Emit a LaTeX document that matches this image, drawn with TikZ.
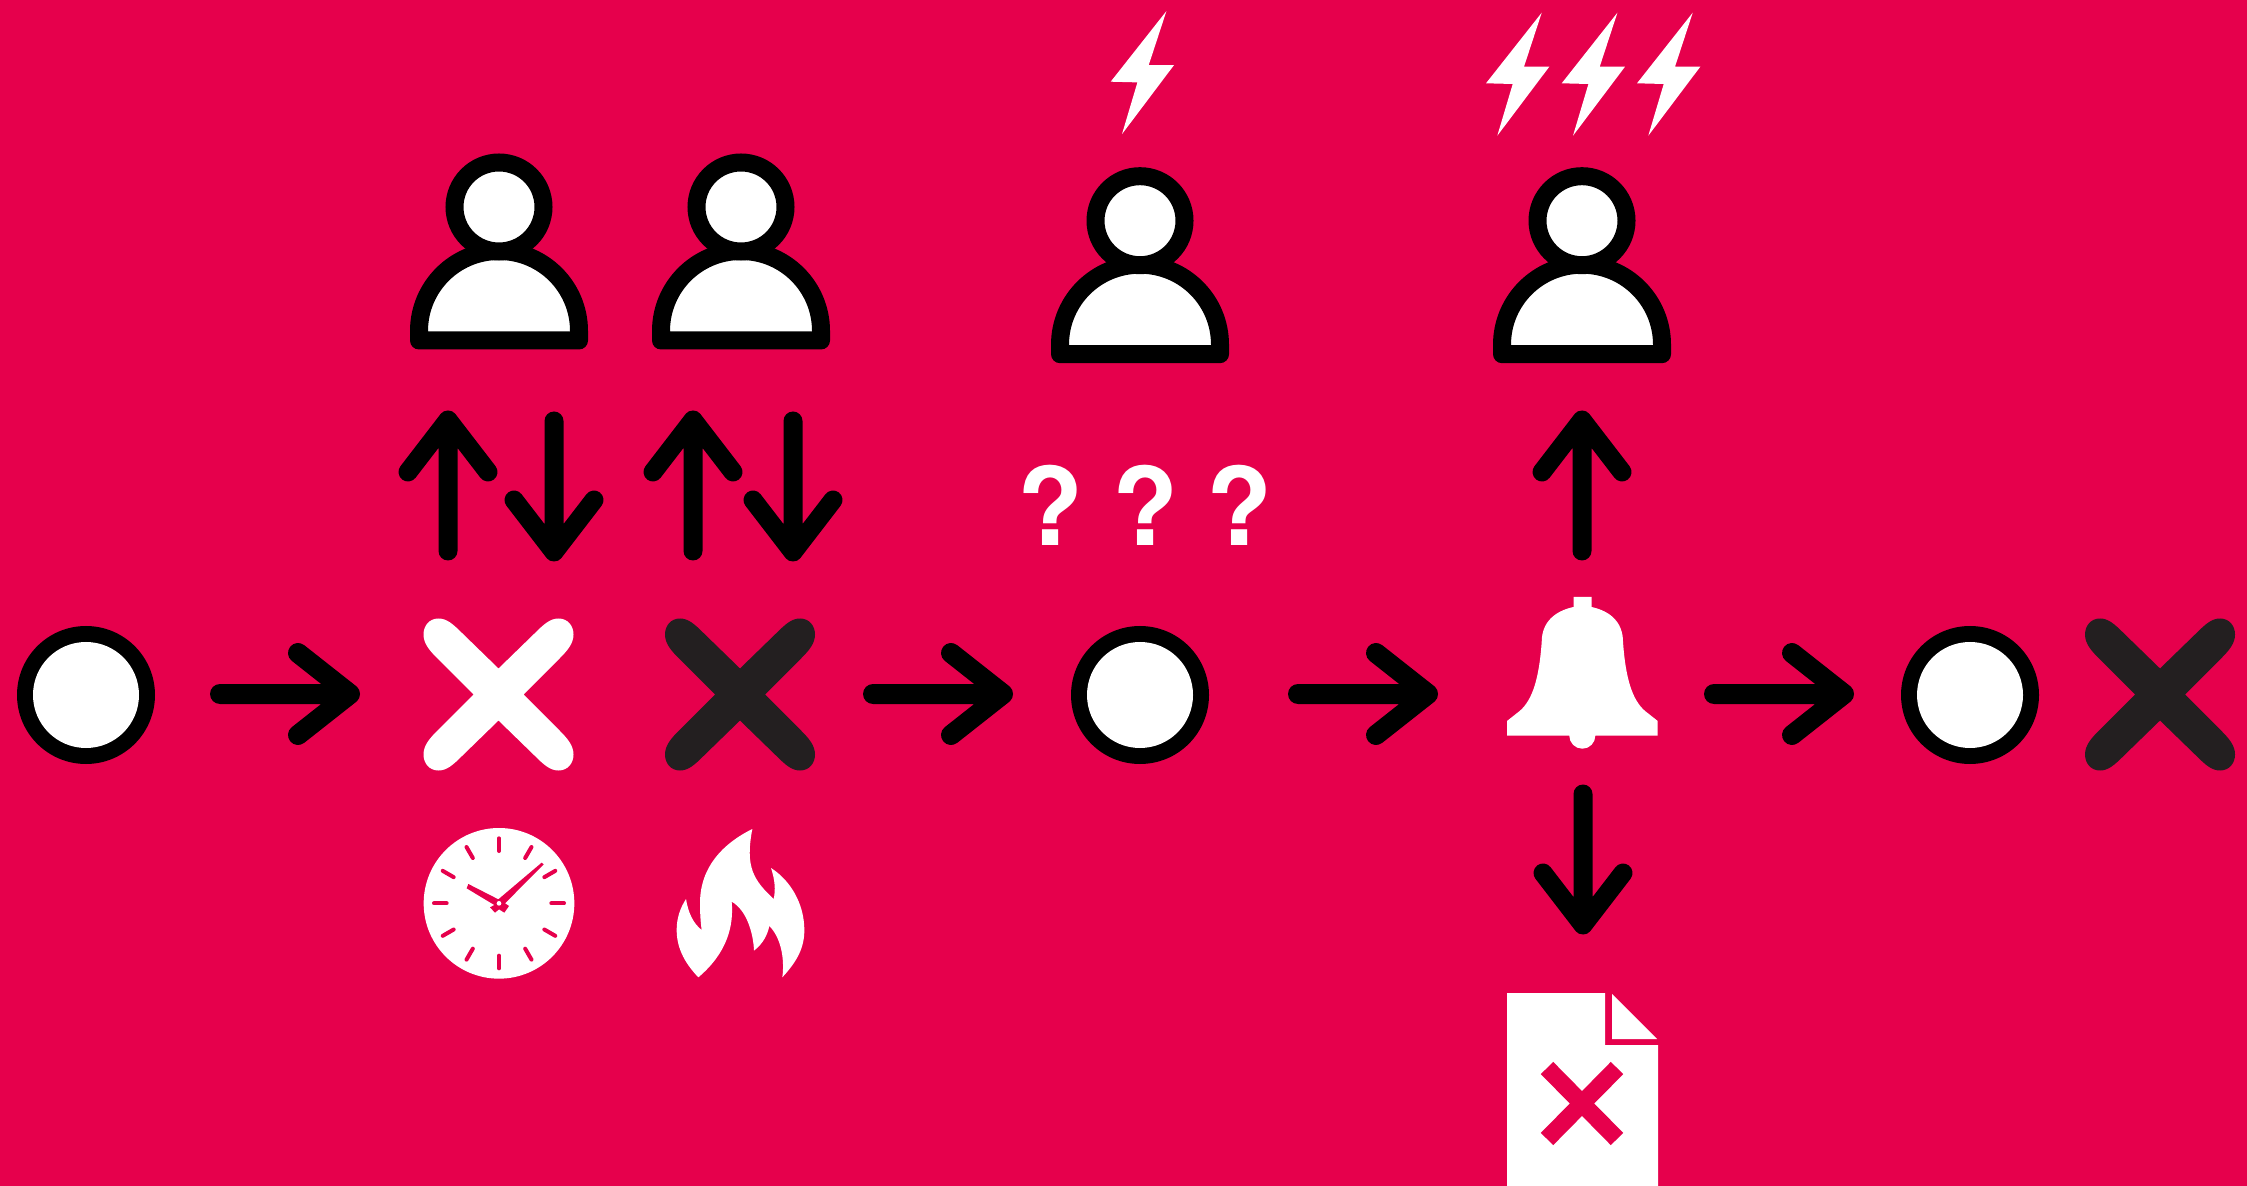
\documentclass[tikz,border=0pt]{standalone}
\usepackage{fontspec}
\newfontfamily\qfont{TeX Gyre Heros}
\definecolor{bg}{HTML}{E6004C}
\definecolor{darkx}{HTML}{231F20}
\tikzset{
  iconline/.style={line cap=round,line join=round},
  ring/.style={draw=black,fill=white,line width=8pt},
  qmark/.style={text=white,inner sep=0pt,font=\qfont\bfseries\fontsize{54pt}{54pt}\selectfont},
  person/.pic={
    \draw[ring,line width=9pt,line join=round] (-80,124) arc (180:360:80) -- (80,133.5) -- (-80,133.5) -- cycle;
    \draw[ring,line width=9pt] (0,0) circle (44.5);
  },
  uparrow/.pic={
    \draw[iconline,line width=9.5pt] (0,0) -- (0,131) (-40,52) -- (0,0) -- (40,52);
  },
  downarrow/.pic={
    \draw[iconline,line width=9.5pt] (0,0) -- (0,131) (-40,79) -- (0,131) -- (40,79);
  },
  rightarrow/.pic={
    \draw[iconline,line width=10pt] (0,0) -- (130,0) (78,-41) -- (130,0) -- (78,41);
  },
  crossmark/.pic={
    \fill (0,-26) -- (36,-61) .. controls (46,-71) and (52,-76) .. (60,-76)
      .. controls (69,-76) and (75,-69) .. (75,-60)
      .. controls (75,-51) and (69,-44) .. (61,-36) -- (25,0) -- (61,36)
      .. controls (69,44) and (75,51) .. (75,60)
      .. controls (75,69) and (69,76) .. (60,76)
      .. controls (52,76) and (46,71) .. (36,61) -- (0,26) -- (-36,61)
      .. controls (-46,71) and (-52,76) .. (-60,76)
      .. controls (-69,76) and (-75,69) .. (-75,60)
      .. controls (-75,51) and (-69,44) .. (-61,36) -- (-25,0) -- (-61,-36)
      .. controls (-69,-44) and (-75,-51) .. (-75,-60)
      .. controls (-75,-69) and (-69,-76) .. (-60,-76)
      .. controls (-52,-76) and (-46,-71) .. (-36,-61) -- cycle;
  },
  statecircle/.pic={
    \fill[black] (0,0) circle (69);
    \fill[white] (0,0) circle (53);
  },
  bolt/.pic={
    \fill[white] (55.7,-70.6) -- (38,-16.6) -- (63.3,-16.6) -- (11.3,52.4) -- (26.7,0.7) -- (0,0) -- cycle;
  },
}
\begin{document}
\begin{tikzpicture}[x=0.5pt,y=-0.5pt]
\useasboundingbox (0,0) rectangle (2247,1186);
\fill[bg] (0,0) rectangle (2247,1186);

% persons and bolts
\pic at (499,207) {person};
\pic at (741,207) {person};
\pic at (1140,220.7) {person};
\pic at (1582,220.7) {person};
\pic at (1110.7,81.7) {bolt};
\pic at (1486,83.3) {bolt};
\pic at (1561.7,83.3) {bolt};
\pic at (1637,83.3) {bolt};

% vertical arrows
\pic at (448,420) {uparrow};
\pic at (554,421) {downarrow};
\pic at (693,420) {uparrow};
\pic at (793,421) {downarrow};
\pic at (1582,420) {uparrow};
\pic at (1583,794) {downarrow};

% question marks
\node[qmark] (q1) at (1050,505) {?};
\node[qmark] (q2) at (1145,505) {?};
\node[qmark] (q3) at (1239,505) {?};

% main row
\pic at (86,695) {statecircle};
\pic at (220,694) {rightarrow};
\pic[white] at (498.5,694.5) {crossmark};
\pic[darkx] at (740,694.5) {crossmark};
\pic at (873,694) {rightarrow};
\pic at (1140,695) {statecircle};
\pic at (1298,694) {rightarrow};
\pic at (1714,694) {rightarrow};
\pic at (1970,695) {statecircle};
\pic[darkx] at (2160,694.5) {crossmark};

% bell
\fill[white] (1573.5,597) -- (1591.5,597) -- (1591.5,607)
  .. controls (1610,611) and (1623,622) .. (1623,642)
  .. controls (1625.7,680) and (1632.7,700) .. (1644.7,710.7)
  -- (1657.7,721) -- (1657.7,735.7) -- (1595.3,735.7)
  arc (0:180:13)
  -- (1507,735.7) -- (1507,721) -- (1520,710.7)
  .. controls (1532,700) and (1539,680) .. (1541.7,642)
  .. controls (1541.7,622) and (1555,611) .. (1573.5,607) -- cycle;

% document
\fill[white] (1507,993) -- (1605,993) -- (1605,1045) -- (1658,1045) -- (1658,1186) -- (1507,1186) -- cycle;
\fill[white] (1612,994) -- (1657,1039) -- (1612,1039) -- cycle;
\draw[bg,line width=8.7pt] (1547,1068) -- (1617,1139) (1547,1139) -- (1617,1068);

% clock
\begin{scope}[shift={(415,820)},scale=1/3]
  \fill[white] (252,250) circle (226);
  \foreach \a in {0,30,...,330}
    \draw[bg,line width=2pt,line cap=round] ({252+157*cos(\a)},{250+157*sin(\a)}) -- ({252+195*cos(\a)},{250+195*sin(\a)});
  \fill[bg] (160,192) -- (250,238) -- (380,128) -- (386,133) -- (270,250) -- (282,258) -- (268,278) -- (252,268) -- (240,278) -- (225,262) -- (238,255) -- (155,205) -- cycle;
  \fill[white] (252,250) circle (7);
\end{scope}

% flame
\begin{scope}[shift={(660,810)},scale=1/3]
  \fill[white] (277,57)
    .. controls (190,100) and (120,170) .. (120,280)
    .. controls (120,310) and (122,340) .. (125,360)
    .. controls (100,340) and (85,310) .. (78,267)
    .. controls (60,295) and (50,325) .. (50,360)
    .. controls (50,420) and (80,465) .. (115,502)
    .. controls (200,430) and (222,350) .. (215,275)
    .. controls (260,300) and (280,370) .. (282,422)
    .. controls (310,400) and (322,375) .. (328,348)
    .. controls (360,380) and (375,440) .. (367,502)
    .. controls (415,450) and (433,410) .. (433,360)
    .. controls (433,280) and (390,210) .. (333,174)
    .. controls (345,210) and (347,240) .. (341,267)
    .. controls (280,210) and (255,170) .. (277,57) -- cycle;
\end{scope}
\end{tikzpicture}
\end{document}
